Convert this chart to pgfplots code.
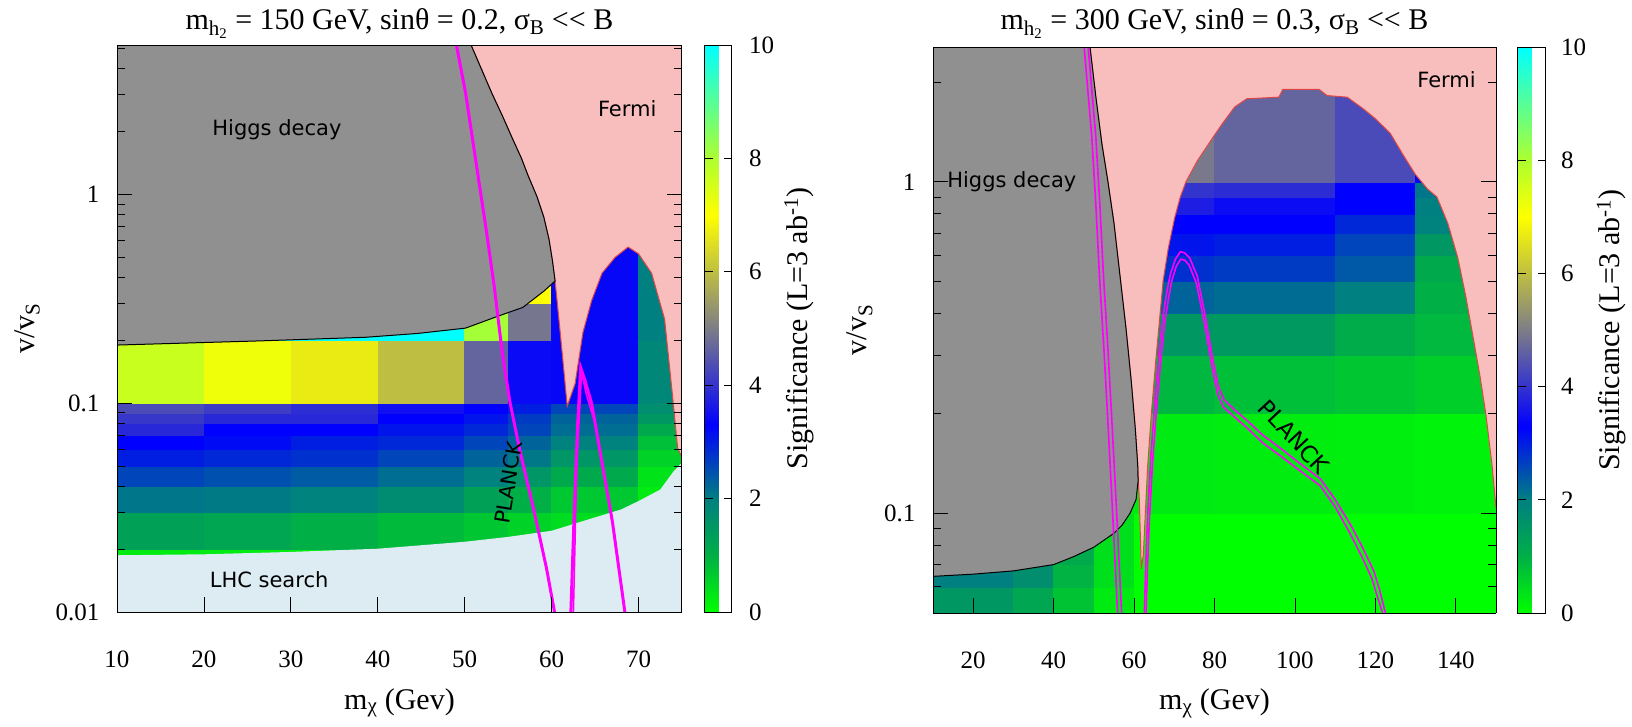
\documentclass[border=0pt]{standalone}
\usepackage{fontspec}
\setmainfont{Liberation Serif}
\newfontfamily\lblfont{DejaVu Sans}
\usepackage{pgfplots}
\usepackage{pgfplotstable}
\pgfplotsset{compat=1.18}
\newcommand\fs[1]{\fontsize{#1}{#1}\selectfont}

\definecolor{higgs}{RGB}{144,144,144}
\definecolor{fermi}{RGB}{248,189,189}
\definecolor{fermiedge}{RGB}{225,70,70}
\definecolor{lhc}{RGB}{221,236,242}
\definecolor{planck}{RGB}{255,0,255}

\pgfplotsset{colormap={sig}{rgb255(0pt)=(0,255,0); rgb255(10pt)=(0,175,70); rgb255(20pt)=(0,128,128); rgb255(33pt)=(0,0,255); rgb255(50pt)=(125,125,135); rgb255(60pt)=(190,190,67); rgb255(70pt)=(255,255,0); rgb255(80pt)=(173,255,47); rgb255(100pt)=(0,255,255)}}
\pgfkeys{/pgf/number format/assume math mode=true}

\pgfplotstableread{
x y c
10 0.01 0.25
20 0.01 0.25
30 0.01 0.25
40 0.01 0.25
50 0.01 0.2
55 0.01 0.2
60 0.01 0.2
70 0.01 0.15
75 0.01 0.15
10 0.02 1.3
20 0.02 1.2
30 0.02 1.0
40 0.02 0.85
50 0.02 0.7
55 0.02 0.56
60 0.02 0.44
70 0.02 0.2
75 0.02 0.2
10 0.03 2.1
20 0.03 2.05
30 0.03 1.96
40 0.03 1.74
50 0.03 1.3
55 0.03 1.0
60 0.03 0.69
70 0.03 0.25
75 0.03 0.25
10 0.04 2.59
20 0.04 2.49
30 0.04 2.38
40 0.04 2.18
50 0.04 1.96
55 0.04 1.53
60 0.04 1.1
70 0.04 0.35
75 0.04 0.35
10 0.05 3.0
20 0.05 2.9
30 0.05 2.8
40 0.05 2.59
50 0.05 2.28
55 0.05 2.08
60 0.05 1.53
70 0.05 0.56
75 0.05 0.56
10 0.06 3.3
20 0.06 3.2
30 0.06 3.0
40 0.06 2.9
50 0.06 2.59
55 0.06 2.28
60 0.06 1.96
70 0.06 0.8
75 0.06 0.8
10 0.07 3.84
20 0.07 3.3
30 0.07 3.3
40 0.07 3.1
50 0.07 2.9
55 0.07 2.59
60 0.07 2.18
70 0.07 1.1
75 0.07 1.1
10 0.08 4.05
20 0.08 3.84
30 0.08 3.84
40 0.08 3.3
50 0.08 3.1
55 0.08 2.69
60 0.08 2.28
70 0.08 1.5
75 0.08 1.5
10 0.09 4.32
20 0.09 4.12
30 0.09 3.91
40 0.09 3.5
50 0.09 3.3
55 0.09 3.0
60 0.09 2.59
70 0.09 1.7
75 0.09 1.7
10 0.1 7.67
20 0.1 7.2
30 0.1 6.7
40 0.1 6.0
50 0.1 4.66
55 0.1 3.43
60 0.1 3.4
70 0.1 1.85
75 0.1 1.85
10 0.2 10
20 0.2 10
30 0.2 10
40 0.2 10
50 0.2 8.1
55 0.2 4.9
60 0.2 3.4
70 0.2 2.0
75 0.2 2.0
10 0.3 10
20 0.3 10
30 0.3 10
40 0.3 10
50 0.3 8
55 0.3 7
60 0.3 3.4
70 0.3 2.0
75 0.3 2.0
10 0.4 9
20 0.4 9
30 0.4 9
40 0.4 9
50 0.4 8
55 0.4 7
60 0.4 3.4
70 0.4 2.0
75 0.4 2.0
10 0.5 9
20 0.5 9
30 0.5 9
40 0.5 9
50 0.5 8
55 0.5 7
60 0.5 3.4
70 0.5 2.0
75 0.5 2.0
10 0.6 9
20 0.6 9
30 0.6 9
40 0.6 9
50 0.6 8
55 0.6 7
60 0.6 3.4
70 0.6 2.0
75 0.6 2.0
10 0.7 9
20 0.7 9
30 0.7 9
40 0.7 9
50 0.7 8
55 0.7 7
60 0.7 3.4
70 0.7 2.0
75 0.7 2.0
10 0.8 9
20 0.8 9
30 0.8 9
40 0.8 9
50 0.8 8
55 0.8 7
60 0.8 3.4
70 0.8 2.0
75 0.8 2.0
10 0.9 9
20 0.9 9
30 0.9 9
40 0.9 9
50 0.9 8
55 0.9 7
60 0.9 3.4
70 0.9 2.0
75 0.9 2.0
10 1 9
20 1 9
30 1 9
40 1 9
50 1 8
55 1 7
60 1 3.4
70 1 2.0
75 1 2.0
10 2 9
20 2 9
30 2 9
40 2 9
50 2 8
55 2 7
60 2 3.4
70 2 2.0
75 2 2.0
10 3 9
20 3 9
30 3 9
40 3 9
50 3 8
55 3 7
60 3 3.4
70 3 2.0
75 3 2.0
10 4 9
20 4 9
30 4 9
40 4 9
50 4 8
55 4 7
60 4 3.4
70 4 2.0
75 4 2.0
10 5.2 9
20 5.2 9
30 5.2 9
40 5.2 9
50 5.2 8
55 5.2 7
60 5.2 3.4
70 5.2 2.0
75 5.2 2.0
}\leftdata

\pgfplotstableread{
x y c
10 0.05 1.5
30 0.05 1.2
40 0.05 0.75
50 0.05 0.25
60 0.05 0
80 0.05 0
110 0.05 0
130 0.05 0
150 0.05 0
10 0.06 2.0
30 0.06 1.7
40 0.06 0.95
50 0.06 0.4
60 0.06 0
80 0.06 0
110 0.06 0
130 0.06 0
150 0.06 0
10 0.07 2.0
30 0.07 1.7
40 0.07 1.1
50 0.07 0.4
60 0.07 0
80 0.07 0
110 0.07 0
130 0.07 0
150 0.07 0
10 0.08 2.0
30 0.08 1.7
40 0.08 1.1
50 0.08 0.4
60 0.08 0
80 0.08 0
110 0.08 0
130 0.08 0
150 0.08 0
10 0.09 2.0
30 0.09 1.7
40 0.09 1.1
50 0.09 0.4
60 0.09 0
80 0.09 0
110 0.09 0
130 0.09 0
150 0.09 0
10 0.1 2.0
30 0.1 1.7
40 0.1 1.1
50 0.1 0.3
60 0.1 0.25
80 0.1 0.22
110 0.1 0.2
130 0.1 0.15
150 0.1 0.15
10 0.2 2
30 0.2 2
40 0.2 2
50 0.2 0.3
60 0.2 0.9
80 0.2 0.8
110 0.2 0.7
130 0.2 0.6
150 0.2 0.6
10 0.3 2
30 0.3 2
40 0.3 2
50 0.3 0.3
60 0.3 1.5
80 0.3 1.45
110 0.3 1.06
130 0.3 0.88
150 0.3 0.88
10 0.4 2
30 0.4 2
40 0.4 2
50 0.4 0.3
60 0.4 2.28
80 0.4 2.2
110 0.4 2.0
130 0.4 1.0
150 0.4 1.0
10 0.5 2
30 0.5 2
40 0.5 2
50 0.5 0.3
60 0.5 2.8
80 0.5 2.7
110 0.5 2.4
130 0.5 1.1
150 0.5 1.1
10 0.6 2
30 0.6 2
40 0.6 2
50 0.6 0.3
60 0.6 3.1
80 0.6 3.0
110 0.6 2.6
130 0.6 1.5
150 0.6 1.5
10 0.7 2
30 0.7 2
40 0.7 2
50 0.7 0.3
60 0.7 3.3
80 0.7 3.3
110 0.7 2.9
130 0.7 1.96
150 0.7 1.96
10 0.8 2
30 0.8 2
40 0.8 2
50 0.8 0.3
60 0.8 3.7
80 0.8 3.45
110 0.8 3.3
130 0.8 2.0
150 0.8 2.0
10 0.9 2
30 0.9 2
40 0.9 2
50 0.9 0.3
60 0.9 4.0
80 0.9 3.9
110 0.9 3.3
130 0.9 2.1
150 0.9 2.1
10 1 2
30 1 2
40 1 2
50 1 0.3
60 1 4.95
80 1 4.66
110 1 4.3
130 1 3.35
150 1 3.35
10 2 2
30 2 2
40 2 2
50 2 0.3
60 2 4.95
80 2 4.66
110 2 4.3
130 2 3.35
150 2 3.35
10 2.55 2
30 2.55 2
40 2.55 2
50 2.55 0.3
60 2.55 4.95
80 2.55 4.66
110 2.55 4.3
130 2.55 3.35
150 2.55 3.35
}\rightdata

\begin{document}
\begin{tikzpicture}[x=1pt,y=1pt]
\useasboundingbox (0,0) rectangle (1632,726);

% ---------------- left panel ----------------
\begin{axis}[
  scale only axis, view={0}{90}, axis on top, ymode=log,
  at={(117pt,114pt)}, anchor=south west, width=565pt, height=567pt,
  xmin=10, xmax=75, ymin=0.01, ymax=5.2, zmin=0, zmax=1,
  colormap name=sig, point meta min=0, point meta max=10,
  axis line style={black, line width=1pt},
  tick style={black, line width=0.8pt},
  major tick length=15pt, minor tick length=8pt, tick align=inside,
  xtick pos=bottom,
  tick label style={font=\fs{25}},
  xticklabel style={anchor=base, yshift=-55pt},
  yticklabel style={anchor=east, xshift=-14pt},
  label style={font=\fs{30}},
  title style={font=\fs{30}, at={(axis description cs:0.5,1)}, anchor=base, yshift=10pt},
  xtick={10,20,30,40,50,60,70},
  ytick={0.01,0.1,1}, yticklabels={0.01,0.1,1},
  minor ytick={0.02,0.03,0.04,0.05,0.06,0.07,0.08,0.09,0.2,0.3,0.4,0.5,0.6,0.7,0.8,0.9,2,3,4,5},
  title={m\textsubscript{h\textsubscript{2}} = 150 GeV, sinθ = 0.2, σ\textsubscript{B} <{}< B},
  xlabel={m\textsubscript{χ} (Gev)}, ylabel={v/v\textsubscript{S}},
  xlabel style={at={(axis description cs:0.5,-0.16)}, anchor=center},
  ylabel style={at={(axis description cs:-0.159,0.5)}, anchor=center},
  colorbar,
  colorbar style={
     at={(parent axis.north east)}, anchor=north west, xshift=14pt,
     scale only axis, width=27pt, height=567pt,
     ytick={0,2,4,6,8,10}, ytick pos=both, yticklabel pos=right, tick align=inside,
     major tick length=8pt, tick style={black, line width=0.8pt},
     axis line style={black, line width=1pt},
     yticklabel style={font=\fs{25}, anchor=west, xshift=14pt},
     ylabel={Significance (L=3 ab\textsuperscript{-1})},
     ylabel style={font=\fs{30}, at={(axis description cs:3.5,0.5)}, anchor=center},
  },
]
\addplot3[surf, shader=flat corner, mesh/cols=9, mesh/rows=23, point meta=\thisrow{c}] table[x=x, y=y, z expr=0] {\leftdata};
% LHC search
\addplot3[fill=lhc, draw=none] coordinates {(10,0.01,0) (10,0.0187,0) (20,0.0189,0) (30,0.0194,0) (40,0.0201,0) (50,0.0217,0) (55,0.0229,0) (60,0.0245,0) (65,0.0284,0) (68,0.031,0) (70,0.034,0) (72.5,0.0386,0) (74,0.047,0) (75,0.052,0) (75,0.01,0)} -- cycle;
% Fermi
\addplot3[fill=fermi, draw=fermiedge, line width=1pt] coordinates {(50.4,5.6,0) (51.8,4.1,0) (53.1,3.07,0) (54.4,2.35,0) (55.5,1.85,0) (56.5,1.5,0) (57.3,1.23,0) (58.3,0.98,0) (59.1,0.78,0) (59.7,0.61,0) (60.1,0.48,0) (60.4,0.385,0) (60.6,0.32,0) (61.2,0.178,0) (61.8,0.097,0) (62.7,0.124,0) (63.6,0.218,0) (64.6,0.31,0) (65.8,0.42,0) (67.3,0.5,0) (68.8,0.56,0) (70,0.52,0) (71.5,0.42,0) (73,0.253,0) (73.9,0.11,0) (74.5,0.061,0) (75,0.055,0) (75.5,0.055,0) (75.5,5.6,0)} -- cycle;
% Higgs decay
\addplot3[fill=higgs, draw=black, line width=1pt] coordinates {(9.5,5.6,0) (50.4,5.6,0) (51.8,4.1,0) (53.1,3.07,0) (54.4,2.35,0) (55.5,1.85,0) (56.5,1.5,0) (57.3,1.23,0) (58.3,0.98,0) (59.1,0.78,0) (59.7,0.61,0) (60.1,0.48,0) (60.4,0.385,0) (59.1,0.344,0) (56.7,0.288,0) (53.7,0.26,0) (50.1,0.229,0) (44.6,0.216,0) (38.6,0.207,0) (26.5,0.199,0) (10,0.19,0) (9.5,0.19,0)} -- cycle;
% PLANCK
\addplot3[planck, line width=3pt] coordinates {(48.9,5.6,0) (50.1,3.07,0) (51.3,1.43,0) (52.5,0.667,0) (53.4,0.362,0) (54.3,0.178,0) (55.2,0.1016,0) (56.4,0.058,0) (57.9,0.0315,0) (59.4,0.0163,0) (60.3,0.0102,0) (60.4,0.0095,0)};
\addplot3[planck, line width=3pt] coordinates {(62.2,0.0095,0) (62.6,0.03,0) (63.0,0.08,0) (63.35,0.148,0) (63.8,0.13,0) (64.6,0.1,0) (65.8,0.052,0) (67,0.027,0) (68.4,0.0102,0) (68.5,0.0095,0)};
\addplot3[planck, line width=1.5pt] coordinates {(62.5,0.0095,0) (62.9,0.05,0) (63.45,0.14,0) (64.0,0.11,0) (64.8,0.085,0)};
\node[font=\lblfont\fs{21}] at (axis cs:28.4,2.04,0) {Higgs decay};
\node[font=\lblfont\fs{21}] at (axis cs:68.7,2.57,0) {Fermi};
\node[font=\lblfont\fs{21}] at (axis cs:27.5,0.0143,0) {LHC search};
\node[font=\lblfont\fs{21}, rotate=81] at (axis cs:55.0,0.0417,0) {PLANCK};
\end{axis}

% ---------------- right panel ----------------
\begin{axis}[
  scale only axis, view={0}{90}, axis on top, ymode=log,
  at={(933pt,113pt)}, anchor=south west, width=563pt, height=566pt,
  xmin=10, xmax=150, ymin=0.05, ymax=2.55, zmin=0, zmax=1,
  colormap name=sig, point meta min=0, point meta max=10,
  axis line style={black, line width=1pt},
  tick style={black, line width=0.8pt},
  major tick length=15pt, minor tick length=8pt, tick align=inside,
  xtick pos=bottom,
  tick label style={font=\fs{25}},
  xticklabel style={anchor=base, yshift=-55pt},
  yticklabel style={anchor=east, xshift=-14pt},
  label style={font=\fs{30}},
  title style={font=\fs{30}, at={(axis description cs:0.5,1)}, anchor=base, yshift=12pt},
  xtick={20,40,60,80,100,120,140},
  ytick={0.1,1}, yticklabels={0.1,1},
  minor ytick={0.06,0.07,0.08,0.09,0.2,0.3,0.4,0.5,0.6,0.7,0.8,0.9,2},
  title={m\textsubscript{h\textsubscript{2}} = 300 GeV, sinθ = 0.3, σ\textsubscript{B} <{}< B},
  xlabel={m\textsubscript{χ} (Gev)}, ylabel={v/v\textsubscript{S}},
  xlabel style={at={(axis description cs:0.5,-0.16)}, anchor=center},
  ylabel style={at={(axis description cs:-0.13,0.5)}, anchor=center},
  colorbar,
  colorbar style={
     at={(parent axis.north east)}, anchor=north west, xshift=13pt,
     scale only axis, width=28pt, height=566pt,
     ytick={0,2,4,6,8,10}, ytick pos=both, yticklabel pos=right, tick align=inside,
     major tick length=8pt, tick style={black, line width=0.8pt},
     axis line style={black, line width=1pt},
     yticklabel style={font=\fs{25}, anchor=west, xshift=12pt},
     ylabel={Significance (L=3 ab\textsuperscript{-1})},
     ylabel style={font=\fs{30}, at={(axis description cs:3.35,0.5)}, anchor=center},
  },
]
\addplot3[surf, shader=flat corner, mesh/cols=9, mesh/rows=17, point meta=\thisrow{c}] table[x=x, y=y, z expr=0] {\rightdata};
% Fermi
\addplot3[fill=fermi, draw=fermiedge, line width=1pt] coordinates {(48.8,2.7,0) (50.5,1.8,0) (52,1.3,0) (53.5,1.0,0) (55,0.75,0) (56.5,0.52,0) (58,0.36,0) (59.3,0.25,0) (60.3,0.18,0) (60.9,0.14,0) (61.3,0.11,0) (61.8,0.068,0) (62.3,0.075,0) (62.8,0.1,0) (63.4,0.14,0) (64.3,0.2,0) (65.3,0.28,0) (66.3,0.38,0) (67.2,0.5,0) (68.5,0.63,0) (70.1,0.78,0) (71.5,0.9,0) (72.9,1.0,0) (75.8,1.16,0) (79.6,1.36,0) (82,1.5,0) (85,1.68,0) (88,1.78,0) (96,1.8,0) (97,1.9,0) (106,1.9,0) (108,1.82,0) (113,1.8,0) (117,1.66,0) (120,1.55,0) (123.7,1.4,0) (127,1.2,0) (130,1.05,0) (133,0.95,0) (135.3,0.9,0) (138,0.75,0) (140.5,0.59,0) (142.5,0.45,0) (144.3,0.34,0) (146,0.26,0) (147.5,0.198,0) (149,0.14,0) (150,0.104,0) (150.5,0.104,0) (150.5,2.7,0)} -- cycle;
% Higgs decay
\addplot3[fill=higgs, draw=black, line width=1pt] coordinates {(9.5,2.7,0) (48.8,2.7,0) (50.5,1.8,0) (52,1.3,0) (53.5,1.0,0) (55,0.75,0) (56.5,0.52,0) (58,0.36,0) (59.3,0.25,0) (60.3,0.18,0) (60.9,0.14,0) (61,0.125,0) (60.5,0.11,0) (59,0.1,0) (57,0.092,0) (55,0.087,0) (50,0.079,0) (45,0.074,0) (40,0.070,0) (30,0.067,0) (20,0.0655,0) (10,0.0645,0) (9.5,0.0645,0)} -- cycle;
% PLANCK
\addplot3[planck, line width=1.6pt] coordinates {(47.3,2.8,0) (49.5,1.357,0) (50.5,0.85,0) (51.4,0.517,0) (52.5,0.313,0) (53.4,0.198,0) (54.6,0.104,0) (55.3,0.07,0) (55.9,0.05,0) (56,0.047,0)};
\addplot3[planck, line width=1.6pt] coordinates {(48.3,2.8,0) (50.5,1.357,0) (51.5,0.85,0) (52.4,0.517,0) (53.5,0.313,0) (54.4,0.198,0) (55.6,0.104,0) (56.3,0.07,0) (56.9,0.05,0) (57,0.047,0)};
\addplot3[planck, line width=1.6pt] coordinates {(62.5,0.047,0) (62.9,0.07,0) (63.4,0.1,0) (64.2,0.15,0) (65.3,0.226,0) (66.2,0.3,0) (67.2,0.394,0) (68.2,0.47,0) (69.1,0.53,0) (70.3,0.585,0) (71.5,0.615,0) (72.6,0.61,0) (73.8,0.59,0) (75.7,0.52,0) (77.6,0.40,0) (79.6,0.29,0) (81,0.24,0) (82.4,0.22,0) (85,0.205,0) (88.2,0.19,0) (92,0.172,0) (96.7,0.156,0) (101,0.142,0) (106.3,0.127,0) (110,0.11,0) (113.9,0.092,0) (117,0.078,0) (119.6,0.067,0) (121,0.059,0) (122.5,0.05,0) (122.8,0.047,0)};
\addplot3[planck, line width=1.6pt] coordinates {(62.9,0.047,0) (63.3,0.0665,0) (63.8,0.095,0) (64.6,0.1425,0) (65.7,0.2147,0) (66.6,0.285,0) (67.6,0.374,0) (68.6,0.4465,0) (69.4,0.5035,0) (70.5,0.556,0) (71.6,0.584,0) (72.6,0.58,0) (73.7,0.56,0) (75.5,0.494,0) (77.4,0.38,0) (79.4,0.2755,0) (80.8,0.228,0) (82.2,0.209,0) (85,0.195,0) (88.2,0.1805,0) (92,0.163,0) (96.7,0.148,0) (101,0.135,0) (106.3,0.121,0) (110,0.1045,0) (113.6,0.0874,0) (116.6,0.0741,0) (119.1,0.0637,0) (120.5,0.056,0) (121.8,0.05,0) (122.1,0.047,0)};
\node[font=\lblfont\fs{21}] at (axis cs:29.6,1.0,0) {Higgs decay};
\node[font=\lblfont\fs{21}] at (axis cs:137.7,2.03,0) {Fermi};
\node[font=\lblfont\fs{23}, rotate=-47] at (axis cs:99.8,0.17,0) {PLANCK};
\end{axis}
\end{tikzpicture}
\end{document}
